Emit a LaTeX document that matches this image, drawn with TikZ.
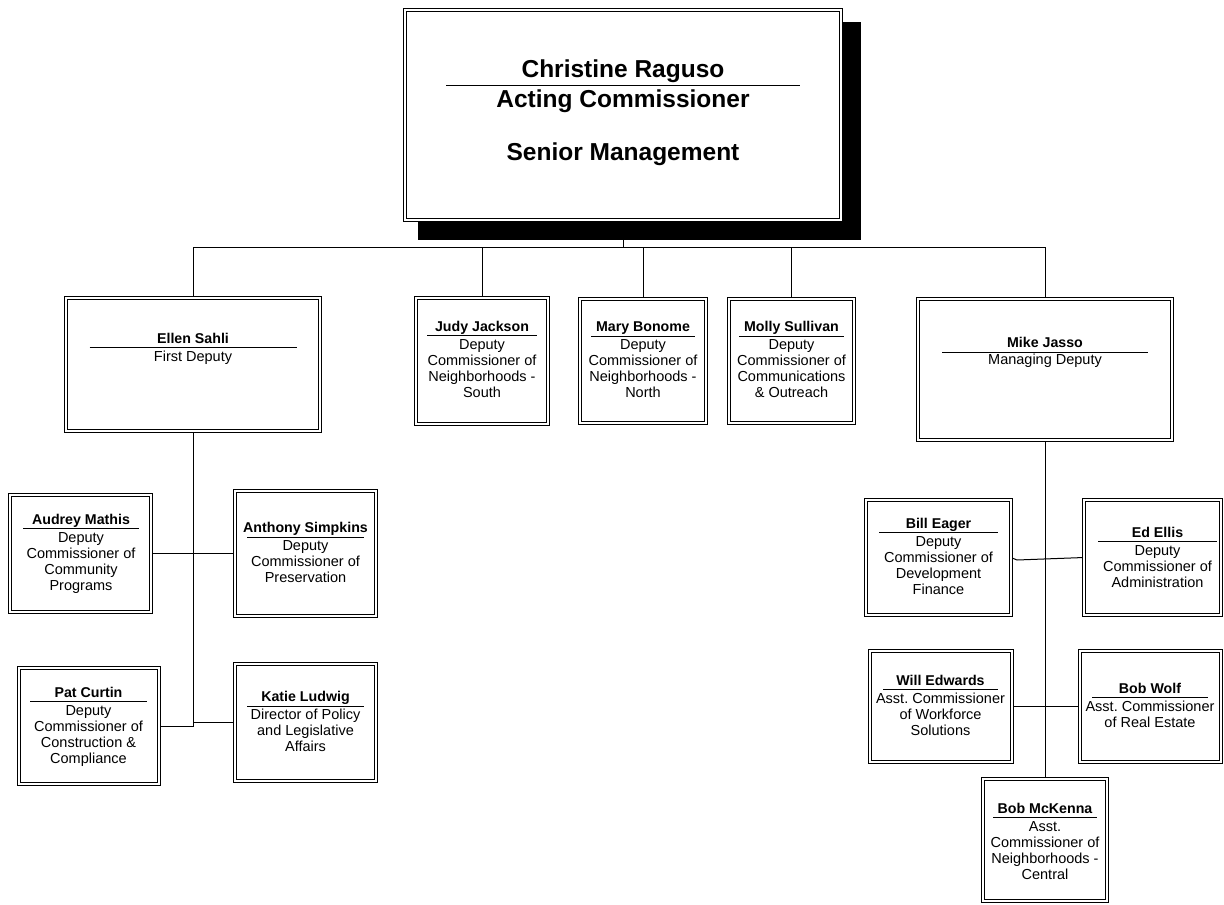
\documentclass[tikz,border=0pt]{standalone}
\usepackage{fontspec}
\setmainfont{Liberation Sans}
\usetikzlibrary{backgrounds}
\frenchspacing

\tikzset{
  orgframe/.style={draw, double, line width=0.9pt, double distance=2.2pt,
    fill=white, inner sep=0pt, outer sep=0pt},
  namefont/.style={font=\fontsize{14.2}{16}\selectfont\bfseries, inner sep=0pt},
  titlefont/.style={font=\fontsize{14.5}{16.2}\selectfont, inner sep=0pt},
  headfont/.style={font=\fontsize{24.5}{26.5}\selectfont\bfseries, inner sep=0pt},
  nameline/.style={line width=0.9pt},
  link/.style={line width=1pt},
}

% box given by its outer edges: id, left, top, right, bottom
\newcommand\orgbox[5]{%
  \node[orgframe, minimum width={#4-#2-4}, minimum height={#5-#3-4}]
    (#1) at ({(#2+#4)/2},{(#3+#5)/2}) {};}

% label: id, centre x, name baseline, rule y, rule half width, name,
%        first title baseline, title lines
\newcommand\orglabel[8]{%
  \node[namefont, anchor=base] (#1-name) at (#2,#3) {#6};
  \draw[nameline] ({#2-#5},#4) -- ({#2+#5},#4);
  \node[titlefont, anchor=base] (#1-title) at (#2,#7)
    {\begin{tabular}[t]{@{}c@{}}#8\end{tabular}};}

\begin{document}
\begin{tikzpicture}[x=1pt, y=-1pt]
  \useasboundingbox (0,0) rectangle (1224,905);

  % ---- boxes ----
  \orgbox{top}{403}{8}{843}{222}
  \orgbox{ellen}{64}{296}{322}{433}
  \orgbox{judy}{414}{296}{550}{426}
  \orgbox{mary}{578}{297}{708}{425}
  \orgbox{molly}{727}{297}{856}{425}
  \orgbox{mike}{916}{297}{1174}{442}
  \orgbox{audrey}{8}{493}{153}{614}
  \orgbox{anthony}{233}{489}{378}{618}
  \orgbox{pat}{17}{666}{161}{786}
  \orgbox{katie}{233}{662}{378}{783}
  \orgbox{bill}{864}{498}{1013}{617}
  \orgbox{ed}{1082}{498}{1223}{617}
  \orgbox{will}{868}{649}{1014}{764}
  \orgbox{wolf}{1078}{649}{1223}{764}
  \orgbox{mckenna}{981}{777}{1109}{903}

  % ---- head of the department ----
  \node[headfont, anchor=base] (top-name) at (623,77) {Christine Raguso};
  \draw[nameline] (446,85) -- (800,85);
  \node[headfont, anchor=base] (top-title) at (623,107)
    {\begin{tabular}[t]{@{}c@{}}Acting Commissioner\\ \\ Senior Management\end{tabular}};

  % ---- staff labels ----
  \orglabel{ellen}{193}{343}{347.5}{103.5}{Ellen Sahli}{361}{First Deputy}
  \orglabel{judy}{482}{331}{335.5}{55}{Judy Jackson}{349}
    {Deputy\\Commissioner of\\Neighborhoods -\\South}
  \orglabel{mary}{643}{331}{336}{52}{Mary Bonome}{349}
    {Deputy\\Commissioner of\\Neighborhoods -\\North}
  \orglabel{molly}{791.5}{331}{336}{52.5}{Molly Sullivan}{349}
    {Deputy\\Commissioner of\\Communications\\\& Outreach}
  \orglabel{mike}{1045}{347}{352}{103}{Mike Jasso}{364}{Managing Deputy}
  \orglabel{audrey}{81}{524}{528}{58}{Audrey Mathis}{542}
    {Deputy\\Commissioner of\\Community\\Programs}
  \orglabel{anthony}{305.5}{532}{537}{58.5}{Anthony Simpkins}{550}
    {Deputy\\Commissioner of\\Preservation}
  \orglabel{pat}{88.5}{697}{701}{58.5}{Pat Curtin}{715}
    {Deputy\\Commissioner of\\Construction \&\\Compliance}
  \orglabel{katie}{305.5}{701}{706}{58.5}{Katie Ludwig}{719}
    {Director of Policy\\and Legislative\\Affairs}
  \orglabel{bill}{938.5}{528}{532}{59.5}{Bill Eager}{546}
    {Deputy\\Commissioner of\\Development\\Finance}
  \orglabel{ed}{1157.5}{537}{541}{59.5}{Ed Ellis}{555}
    {Deputy\\Commissioner of\\Administration}
  \orglabel{will}{940.5}{685}{689}{57.5}{Will Edwards}{703}
    {Asst. Commissioner\\of Workforce\\Solutions}
  \orglabel{wolf}{1150}{693}{697}{58}{Bob Wolf}{711}
    {Asst. Commissioner\\of Real Estate}
  \orglabel{mckenna}{1045}{813}{817}{52}{Bob McKenna}{831}
    {Asst.\\Commissioner of\\Neighborhoods -\\Central}

  % ---- connectors and shadow, behind the boxes ----
  \begin{scope}[on background layer]
    \coordinate (bus) at (623,247);
    \draw[link] (top.south) -- (bus);
    \draw[link] (bus) -| (ellen.north);
    \draw[link] (bus) -| (judy.north);
    \draw[link] (bus) -| (mary.north);
    \draw[link] (bus) -| (molly.north);
    \draw[link] (bus) -| (mike.north);

    \draw[link] (ellen.south) -- (ellen.south |- pat.east) -- (pat.east);
    \draw[link] (audrey.east) -- (anthony.west);
    \draw[link] (katie.west) -- (katie.west -| ellen.south);

    \draw[link] (mike.south) -- (mckenna.north);
    \draw[link] (bill.east) -- ++(6,2.5) -- (ed.west);
    \draw[link] (will.east) -- (wolf.west);

    \fill[black] (418,22) rectangle (861,240);
  \end{scope}
\end{tikzpicture}
\end{document}
